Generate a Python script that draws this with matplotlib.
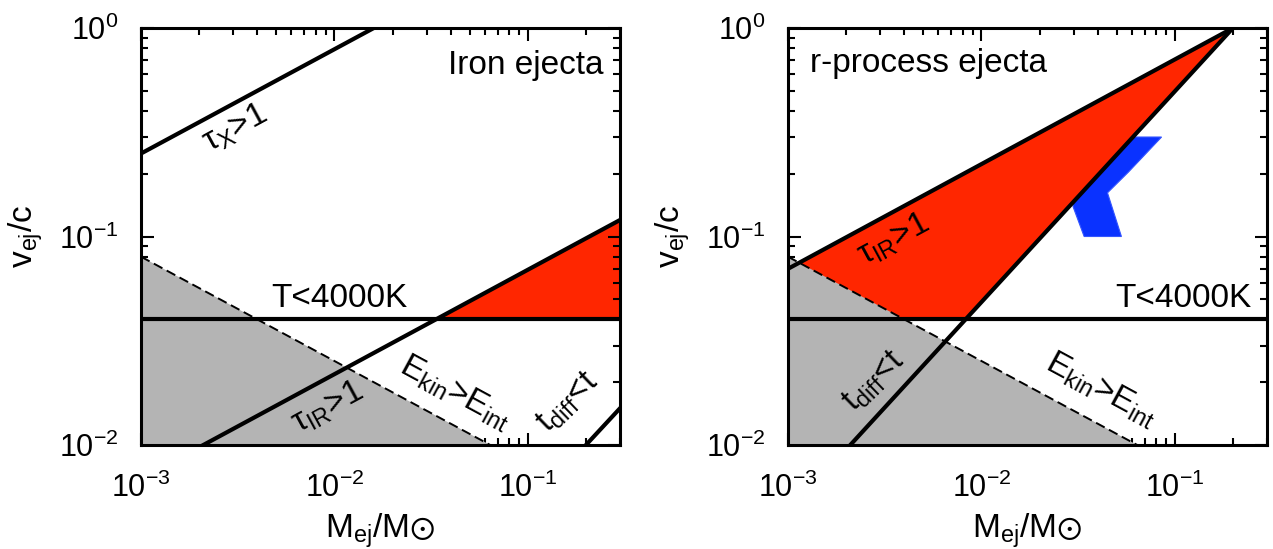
import matplotlib
matplotlib.use('Agg')
import matplotlib.pyplot as plt
from matplotlib.ticker import LogLocator, NullFormatter

plt.rcParams['font.family'] = ['Liberation Sans', 'DejaVu Sans']
plt.rcParams['mathtext.fontset'] = 'custom'
plt.rcParams['mathtext.rm'] = 'Liberation Sans'
plt.rcParams['mathtext.it'] = 'Liberation Sans:italic'
plt.rcParams['mathtext.bf'] = 'Liberation Sans:bold'
plt.rcParams['mathtext.sf'] = 'Liberation Sans'
plt.rcParams['mathtext.fallback'] = 'stixsans'

# ---------------- data ----------------
xlim = (1e-3, 0.3)
ylim = (1e-2, 1.0)
xticks = [1e-3, 1e-2, 1e-1]
xtick_labels = [r'$10^{-3}$', r'$10^{-2}$', r'$10^{-1}$']
yticks = [1e-2, 1e-1, 1.0]
ytick_labels = [r'$10^{-2}$', r'$10^{-1}$', r'$10^{0}$']

# shared boundaries
T_M = [1e-3, 0.3]
T_v = [0.04, 0.04]
ekin_M = [1e-3, 0.064]
ekin_v = [0.08, 0.01]
gray_M = [1e-3, 0.064, 1e-3]
gray_v = [0.08, 0.01, 0.01]

# left panel (iron ejecta)
tauX_M = [1e-3, 0.016]
tauX_v = [0.25, 1.0]
tauIR_left_M = [2.1e-3, 0.3]
tauIR_left_v = [0.01, 0.12]
tdiff_left_M = [0.2, 0.3]
tdiff_left_v = [0.01, 0.015]
red_left_M = [0.0336, 0.3, 0.3]
red_left_v = [0.04, 0.12, 0.04]

# right panel (r-process ejecta)
tauIR_right_M = [1e-3, 0.2]
tauIR_right_v = [0.07, 1.0]
tdiff_right_M = [2.1e-3, 0.2]
tdiff_right_v = [0.01, 1.0]
red_right_M = [1e-3, 0.2, 0.0083, 1e-3]
red_right_v = [0.07, 1.0, 0.04, 0.04]
blue_M = [0.05, 0.0855, 0.0577, 0.0449, 0.053, 0.034, 0.0298, 0.03]
blue_v = [0.3, 0.3, 0.204, 0.162, 0.1, 0.1, 0.139, 0.2]

RED = '#ff2600'
GRAY = '#b4b4b4'
BLUE = '#0a32ff'
LW = 3.0
TXT = 24

fig = plt.figure(figsize=(12.73, 5.49), dpi=100)
axL = fig.add_axes([141/1273, 1-445/549, 479/1273, 417/549])
axR = fig.add_axes([788/1273, 1-445/549, 479/1273, 417/549])


def style(ax):
    ax.set_xscale('log')
    ax.set_yscale('log')
    ax.set_xlim(*xlim)
    ax.set_ylim(*ylim)
    ax.set_xticks(xticks)
    ax.set_xticklabels(xtick_labels)
    ax.set_yticks(yticks)
    ax.set_yticklabels(ytick_labels)
    ax.xaxis.set_minor_locator(LogLocator(base=10, subs=range(2, 10)))
    ax.yaxis.set_minor_locator(LogLocator(base=10, subs=range(2, 10)))
    ax.xaxis.set_minor_formatter(NullFormatter())
    ax.yaxis.set_minor_formatter(NullFormatter())
    ax.tick_params(which='both', direction='in', top=True, right=True,
                   width=1.5, labelsize=22)
    ax.tick_params(which='major', length=9)
    ax.tick_params(which='minor', length=5)
    ax.tick_params(axis='x', pad=20)
    ax.tick_params(axis='y', pad=16)
    for s in ax.spines.values():
        s.set_linewidth(2.2)
    ax.set_xlabel('M$_{\\rm ej}$/M$\\odot$', fontsize=24, va='baseline')
    ax.xaxis.set_label_coords(0.5, -0.222)
    ax.set_ylabel('v$_{\\rm ej}$/c', fontsize=24, va='baseline')
    ax.yaxis.set_label_coords(-0.2255, 0.5)


for ax in (axL, axR):
    style(ax)
    ax.fill(gray_M, gray_v, color=GRAY, lw=0, zorder=2)
    ax.plot(ekin_M, ekin_v, color='k', lw=1.4, dashes=(5, 2.5), zorder=3)
    ax.plot(T_M, T_v, color='k', lw=LW, zorder=4, solid_capstyle='butt')

# left panel
axL.fill(red_left_M, red_left_v, color=RED, lw=0, zorder=1)
axL.plot(tauX_M, tauX_v, color='k', lw=LW, zorder=4)
axL.plot(tauIR_left_M, tauIR_left_v, color='k', lw=LW, zorder=4)
axL.plot(tdiff_left_M, tdiff_left_v, color='k', lw=LW, zorder=4)

axL.text(0.965, 0.911, 'Iron ejecta', transform=axL.transAxes,
         ha='right', va='center', fontsize=TXT)
axL.text(0.0106, 0.0459, 'T<4000K', ha='center', va='baseline', fontsize=TXT)
axL.text(3.07e-3, 0.331, '\u03c4$_{\\rm X}$>1', ha='center', va='center',
         rotation=28.4, rotation_mode='anchor', fontsize=TXT)
axL.text(9.2e-3, 0.01504, '\u03c4$_{\\rm IR}$>1', ha='center', va='center',
         rotation=28.4, rotation_mode='anchor', fontsize=TXT)
axL.text(0.0424, 0.01776, 'E$_{\\rm kin}$>E$_{\\rm int}$', ha='center',
         va='center', rotation=-28.4, rotation_mode='anchor', fontsize=TXT)
axL.text(0.161, 0.0159, 't$_{\\rm diff}$<t', ha='center', va='center',
         rotation=44, rotation_mode='anchor', fontsize=TXT)

# right panel
axR.fill(blue_M, blue_v, color=BLUE, lw=0.8, ec='#3355ff', zorder=0.5)
axR.fill(red_right_M, red_right_v, color=RED, lw=0, zorder=1)
axR.plot(tauIR_right_M, tauIR_right_v, color='k', lw=LW, zorder=4)
axR.plot(tdiff_right_M, tdiff_right_v, color='k', lw=LW, zorder=4)

axR.text(0.046, 0.915, 'r-process ejecta', transform=axR.transAxes,
         ha='left', va='center', fontsize=TXT)
axR.text(0.111, 0.0459, 'T<4000K', ha='center', va='baseline', fontsize=TXT)
axR.text(3.51e-3, 0.0962, '\u03c4$_{\\rm IR}$>1', ha='center', va='center',
         rotation=28.4, rotation_mode='anchor', fontsize=TXT)
axR.text(2.77e-3, 0.02005, 't$_{\\rm diff}$<t', ha='center', va='center',
         rotation=44, rotation_mode='anchor', fontsize=TXT)
axR.text(0.0418, 0.01836, 'E$_{\\rm kin}$>E$_{\\rm int}$', ha='center',
         va='center', rotation=-28.4, rotation_mode='anchor', fontsize=TXT)

fig.savefig('out.png', dpi=100)
